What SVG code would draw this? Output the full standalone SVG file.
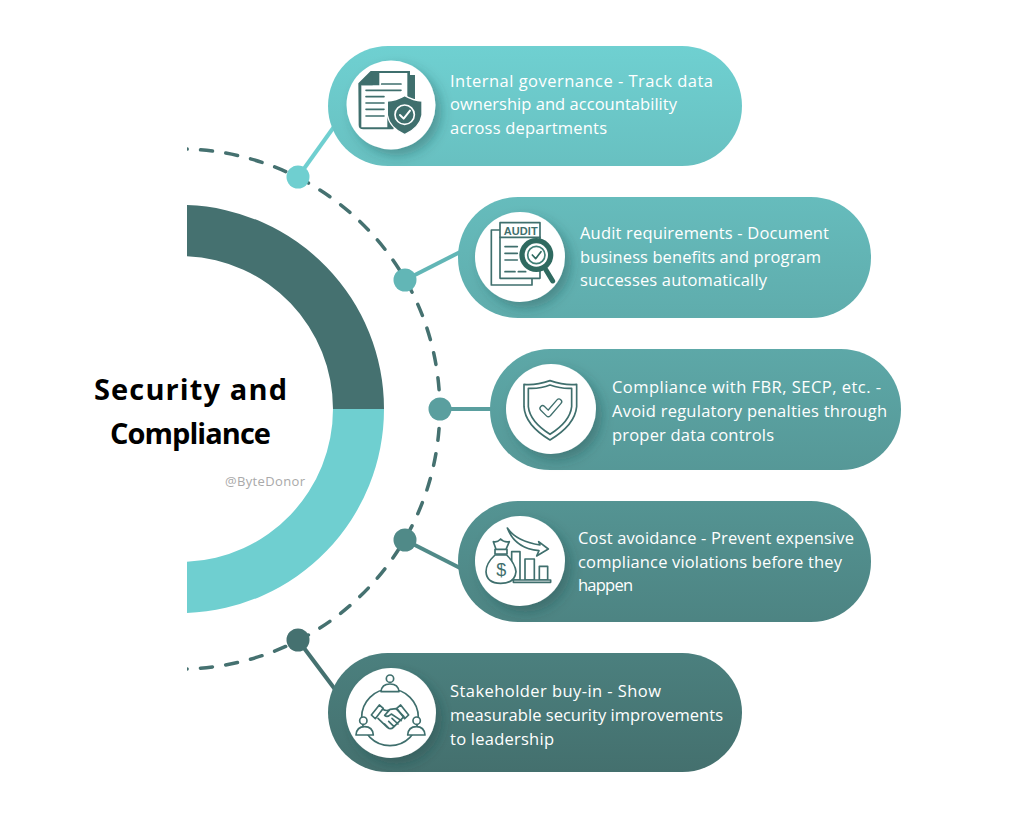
<svg xmlns="http://www.w3.org/2000/svg" width="1024" height="819" viewBox="0 0 1024 819">
<style>
.t{font-family:"Open Sans","Liberation Sans",sans-serif;font-size:16.5px;fill:#fff}
.h{font-family:"Open Sans","Liberation Sans",sans-serif;font-weight:700;font-size:29px;fill:#000}
.w{font-family:"Open Sans","Liberation Sans",sans-serif;font-size:13px;fill:#a9a9a9}
.d{fill:#3f6f6d}
.s{fill:none;stroke:#3f6f6d;stroke-width:5;stroke-linecap:round;stroke-linejoin:round}
.sw{fill:#fff;stroke:#3f6f6d;stroke-width:5;stroke-linejoin:round;stroke-linecap:round}
.c{fill:#fff;filter:url(#sh)}
.p{fill:url(#g)}
.l{fill:none;stroke-width:4}
</style>
<defs>
<linearGradient id="g" gradientUnits="userSpaceOnUse" x1="0" y1="46" x2="0" y2="772"><stop offset="0" stop-color="#6fd0d1"/><stop offset="1" stop-color="#44706e"/></linearGradient>
<filter id="sh" x="-30%" y="-30%" width="170%" height="170%"><feDropShadow dx="6" dy="6" stdDeviation="6" flood-color="#1f4444" flood-opacity=".35"/></filter>
<clipPath id="cp"><rect x="187" y="100" width="300" height="620"/></clipPath>
</defs>
<rect width="1024" height="819" fill="#fff"/>
<g id="hub">
<path d="M187 205.1A204 204 0 0 1 384 409H333A153 153 0 0 0 187 256.2Z" fill="#457170"/>
<path d="M187 612.9A204 204 0 0 0 384 409H333A153 153 0 0 1 187 561.8Z" fill="#6fcfd0"/>
<text class="h" x="94" y="400" textLength="193" lengthAdjust="spacing">Security and</text>
<text class="h" x="110" y="444" textLength="161" lengthAdjust="spacing">Compliance</text>
<text class="w" x="225" y="486" textLength="80" lengthAdjust="spacing">@ByteDonor</text>
</g>
<g id="connectors">
<path clip-path="url(#cp)" d="M187 149.1A260 260 0 0 1 187 668.9" fill="none" stroke="#457170" stroke-width="3.5" stroke-linecap="round" stroke-dasharray="12 13.43" stroke-dashoffset="11.8"/>
<path class="l" stroke="#6fcfd0" d="M298 177L336 124"/>
<path class="l" stroke="#62b6b6" d="M405 280L464 250"/>
<path class="l" stroke="#5a9f9f" d="M440 409H495"/>
<path class="l" stroke="#508a88" d="M405 540L464 570"/>
<path class="l" stroke="#457170" d="M298 640L337 692"/>
<circle cx="298" cy="177" r="11.5" fill="#6fcfd0"/>
<circle cx="405" cy="280" r="11.5" fill="#62b6b6"/>
<circle cx="440" cy="409" r="11.5" fill="#5a9f9f"/>
<circle cx="405" cy="540" r="11.5" fill="#508a88"/>
<circle cx="298" cy="640" r="11.5" fill="#457170"/>
</g>
<g id="node1">
<rect class="p" x="328" y="46" width="414" height="120" rx="60"/>
<circle class="c" cx="391" cy="105" r="44.5"/>
<g transform="translate(330 40) scale(.3333)">
<path class="d" d="M85 130L122 93H240V105H255V240H200L190 268H100Q86 268 86 255Z"/>
<path d="M148 99H232V175L172 190V262H94V136H148Z" fill="#fff"/>
<path d="M94 136L128 103V136Z" fill="#3f6f6d"/>
<path class="s" d="M155 132H213M155 151H213M108 151H162M108 170H162M108 189H162M108 208H162M108 228H162"/>
<path class="d" stroke="#fff" stroke-width="4" d="M224 167Q250 182 276 183V225Q270 262 224 284Q178 262 172 225V183Q198 182 224 167Z"/>
<circle cx="224" cy="224" r="29" fill="none" stroke="#fff" stroke-width="5"/>
<path d="M210 225L221 236L240 212" fill="none" stroke="#fff" stroke-width="6" stroke-linecap="round" stroke-linejoin="round"/>
</g>
<text class="t" x="450" y="87" textLength="263" lengthAdjust="spacing">Internal governance - Track data</text>
<text class="t" x="450" y="110" textLength="227" lengthAdjust="spacing">ownership and accountability</text>
<text class="t" x="450" y="134" textLength="157" lengthAdjust="spacing">across departments</text>
</g>
<g id="node2">
<rect class="p" x="458" y="197" width="413" height="121" rx="60"/>
<circle class="c" cx="520" cy="257" r="45"/>
<g transform="translate(460 195) scale(.3333)">
<rect class="sw" x="94" y="105" width="122" height="165"/>
<rect class="sw" x="120" y="83" width="120" height="167"/>
<path class="s" d="M120 127H240M135 155H172M135 175H172M135 195H172M135 230H165M175 230H197"/>
<text x="182" y="120" text-anchor="middle" font-family="Liberation Sans, sans-serif" font-weight="700" font-size="33" fill="#3f6f6d" textLength="102" lengthAdjust="spacing">AUDIT</text>
<path d="M258 225L278 258" stroke="#2f6a60" stroke-width="15" stroke-linecap="round"/>
<circle cx="229" cy="180" r="51" fill="#2f6a60"/>
<circle cx="229" cy="180" r="35" fill="#fff"/>
<circle cx="229" cy="180" r="26" fill="none" stroke="#3f7f76" stroke-width="5"/>
<path d="M217 180L227 191L243 170" fill="none" stroke="#2f6a60" stroke-width="5" stroke-linecap="round" stroke-linejoin="round"/>
</g>
<text class="t" x="580" y="239" textLength="249" lengthAdjust="spacing">Audit requirements - Document</text>
<text class="t" x="580" y="263" textLength="241" lengthAdjust="spacing">business benefits and program</text>
<text class="t" x="580" y="286" textLength="187" lengthAdjust="spacing">successes automatically</text>
</g>
<g id="node3">
<rect class="p" x="490" y="349" width="411" height="121" rx="60"/>
<circle class="c" cx="551" cy="409" r="45"/>
<g transform="translate(490 345) scale(.3333)">
<path class="s" d="M180 107Q225 122 260 118V185Q255 240 180 285Q105 240 102 185V118Q135 122 180 107Z"/>
<path class="s" d="M180 120Q215 132 245 130V185Q240 230 180 268Q120 230 115 185V130Q150 132 180 120Z"/>
<path d="M158 190L175 207L207 170" fill="none" stroke="#3f6f6d" stroke-width="20" stroke-linecap="round" stroke-linejoin="round"/>
<path d="M158 190L175 207L207 170" fill="none" stroke="#fff" stroke-width="12" stroke-linecap="round" stroke-linejoin="round"/>
</g>
<text class="t" x="612" y="393" textLength="269" lengthAdjust="spacing">Compliance with FBR, SECP, etc. -</text>
<text class="t" x="612" y="417" textLength="275" lengthAdjust="spacing">Avoid regulatory penalties through</text>
<text class="t" x="612" y="441" textLength="162" lengthAdjust="spacing">proper data controls</text>
</g>
<g id="node4">
<rect class="p" x="458" y="501" width="413" height="121" rx="60"/>
<circle class="c" cx="520" cy="561" r="45"/>
<g transform="translate(460 500) scale(.3333)">
<rect class="sw" x="155" y="155" width="25" height="85"/>
<rect class="sw" x="195" y="177" width="28" height="63"/>
<rect class="sw" x="238" y="199" width="25" height="41"/>
<rect class="sw" x="160" y="240" width="112" height="7"/>
<path class="sw" d="M105 165Q78 190 78 215Q80 250 122 250Q165 250 168 215Q165 190 140 165Z"/>
<path class="sw" d="M108 148L100 125Q112 128 122 117Q132 128 148 125L138 148ZM105 148H141V162H105Z"/>
<text x="124" y="227" text-anchor="middle" font-family="Liberation Sans, sans-serif" font-size="54" fill="#3f6f6d">$</text>
<path class="sw" d="M142 84Q170 125 240 135L236 125L265 147L230 168L237 152Q165 145 142 84Z"/>
</g>
<text class="t" x="578" y="544" textLength="276" lengthAdjust="spacing">Cost avoidance - Prevent expensive</text>
<text class="t" x="578" y="568" textLength="264" lengthAdjust="spacing">compliance violations before they</text>
<text class="t" x="578" y="591" textLength="55" lengthAdjust="spacing">happen</text>
</g>
<g id="node5">
<rect class="p" x="328" y="653" width="414" height="119" rx="59.5"/>
<circle class="c" cx="391" cy="713" r="45"/>
<g transform="translate(330 650) scale(.3333)">
<circle class="s" cx="180" cy="202" r="85"/>
<circle class="sw" cx="180" cy="86" r="11"/>
<path class="sw" d="M153 125Q155 102 180 102Q205 102 207 125Z"/>
<circle class="sw" cx="100" cy="212" r="11"/>
<path class="sw" d="M78 255Q80 230 104 230Q128 230 130 255Z"/>
<circle class="sw" cx="260" cy="212" r="11"/>
<path class="sw" d="M233 255Q235 230 259 230Q283 230 285 255Z"/>
<path class="sw" d="M124 195L148 165L160 175L136 206ZM236 195L212 165L200 175L224 206Z"/>
<path class="s" d="M158 178Q170 185 180 178L198 176L222 200L190 232Q182 240 172 232L144 205M180 178L164 196Q172 204 184 192L214 212M204 222L186 205M192 230L176 214M176 234L164 222"/>
</g>
<text class="t" x="450" y="697" textLength="211" lengthAdjust="spacing">Stakeholder buy-in - Show</text>
<text class="t" x="450" y="721" textLength="273" lengthAdjust="spacing">measurable security improvements</text>
<text class="t" x="450" y="745" textLength="104" lengthAdjust="spacing">to leadership</text>
</g>
</svg>
